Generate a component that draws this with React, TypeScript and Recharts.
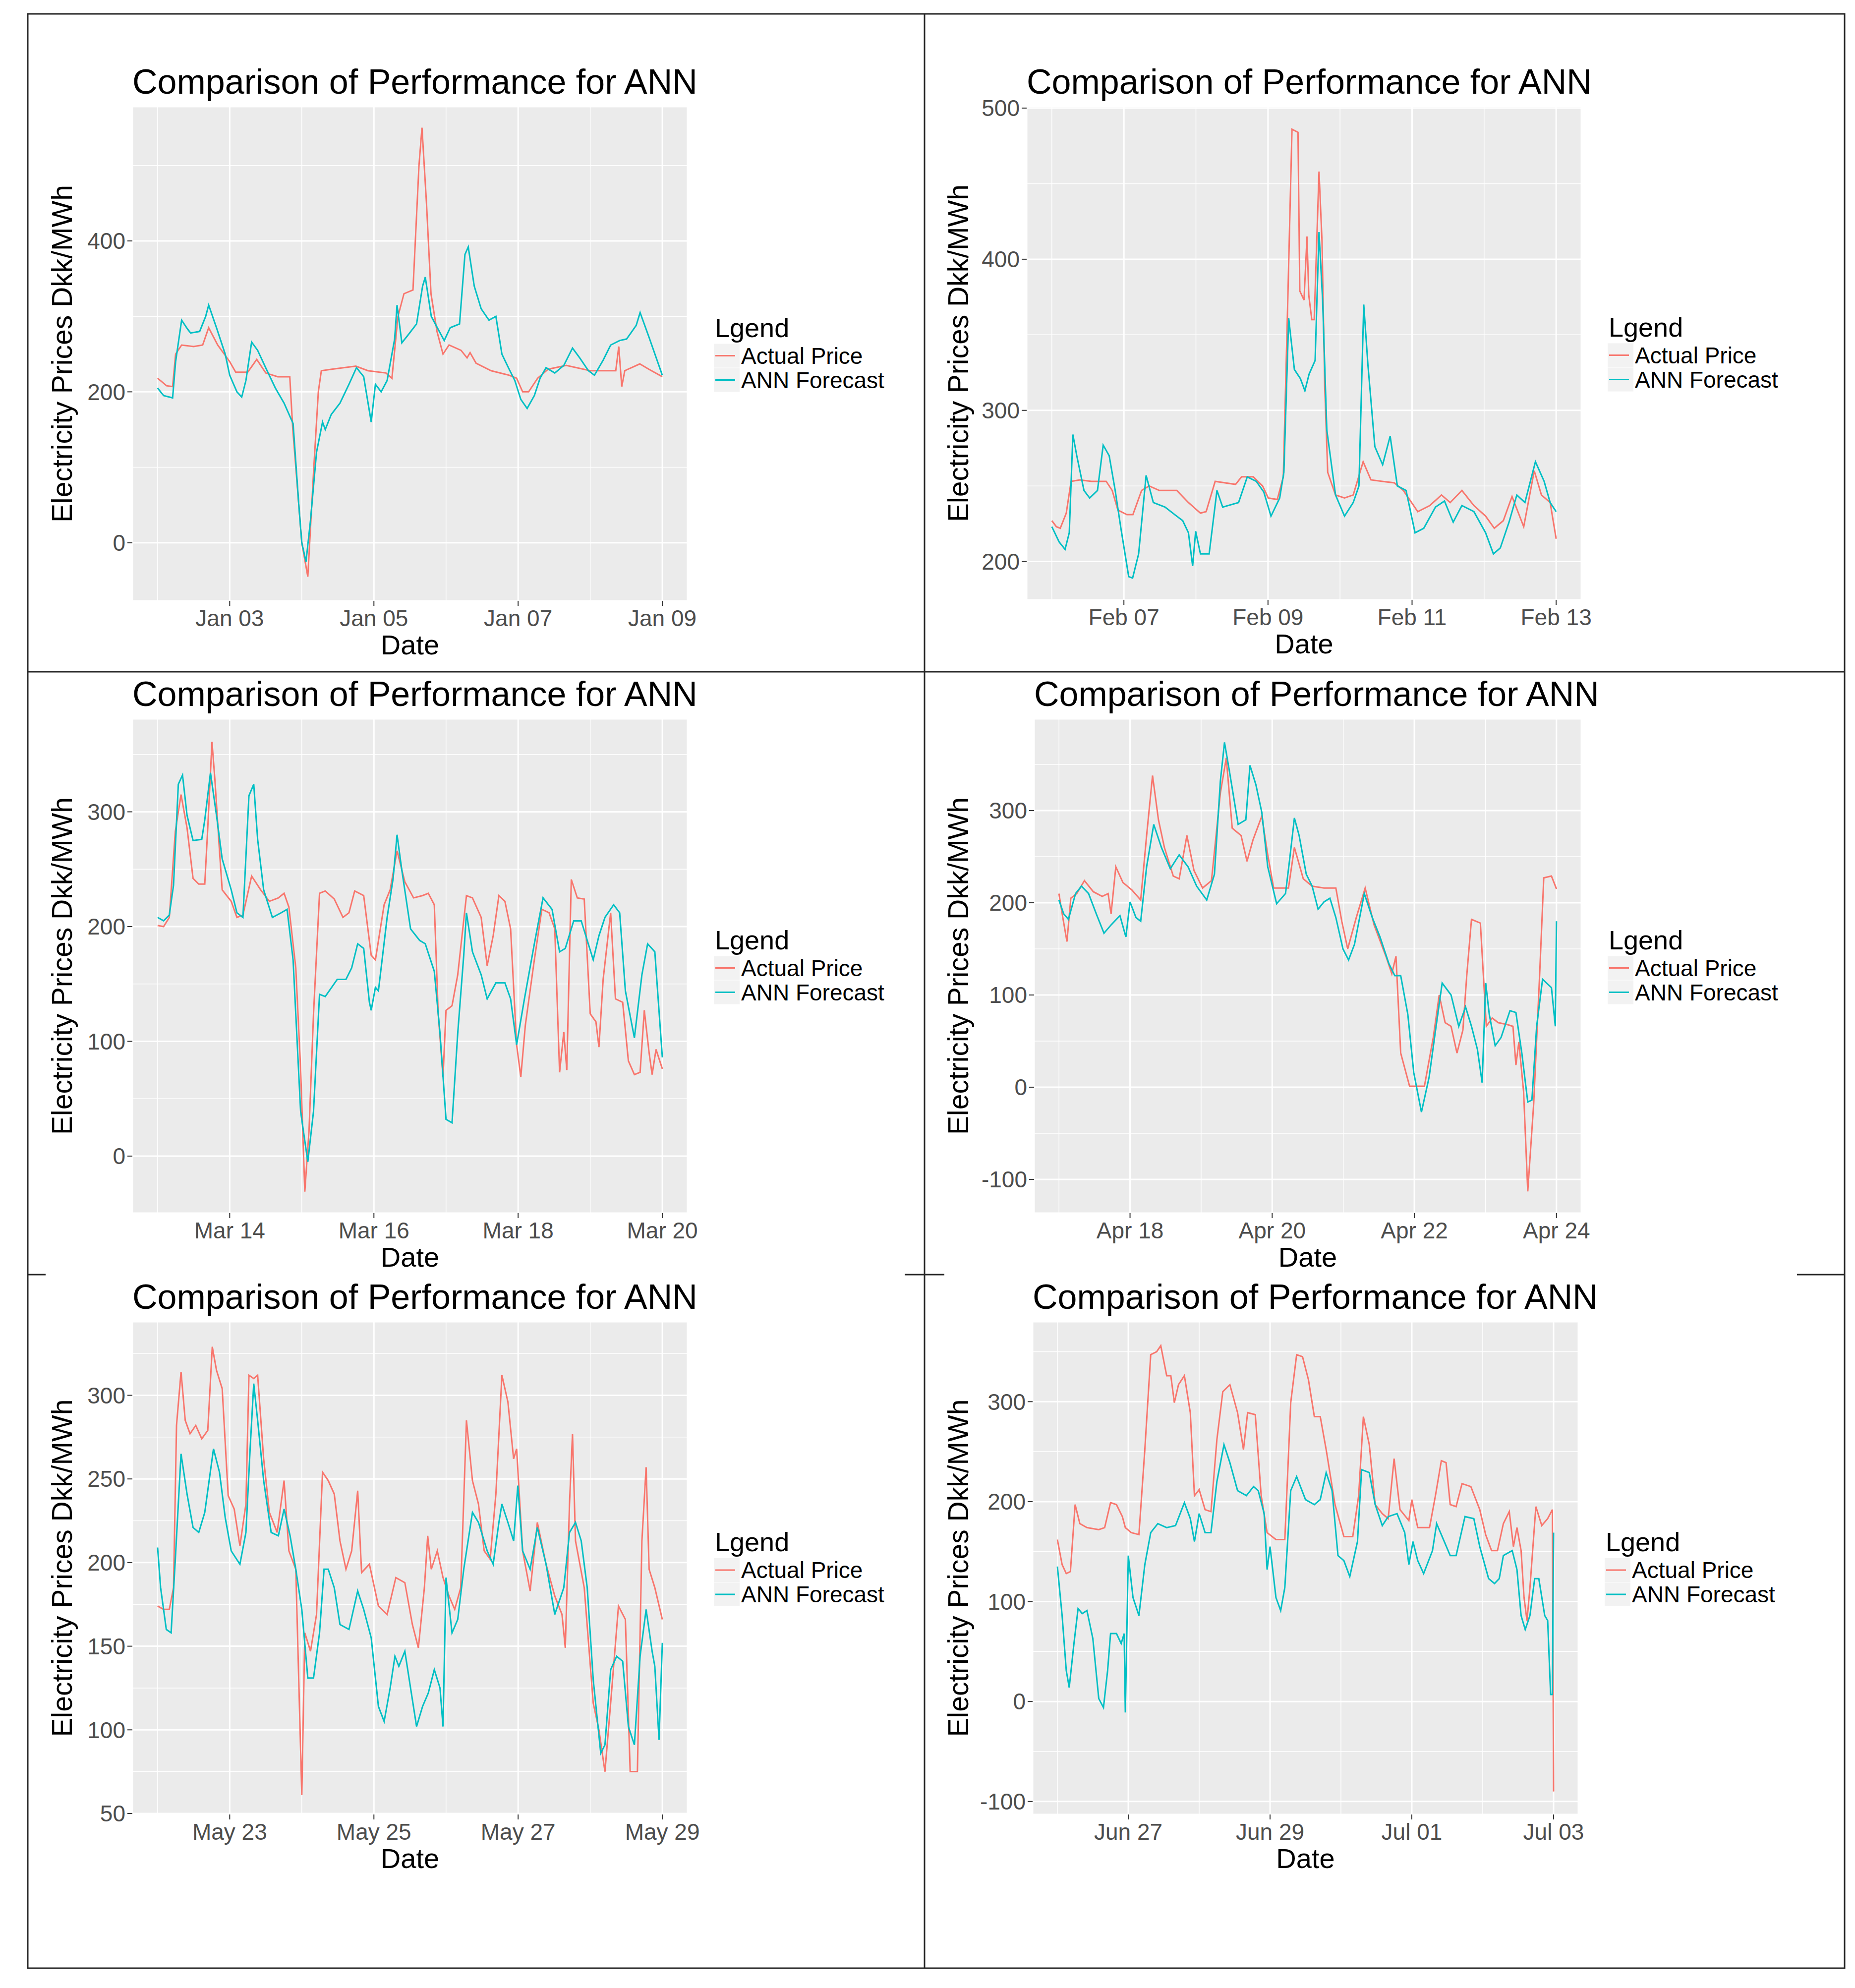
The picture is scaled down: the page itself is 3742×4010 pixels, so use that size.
import React from "react";
import { LineChart, Line, XAxis, YAxis, CartesianGrid, ReferenceLine } from "recharts";

const FONT = '"Liberation Sans", Arial, Helvetica, sans-serif';
const RED = "#F8766D";
const TEAL = "#00BFC4";

type Pt = [number, number];

// hours since midnight of the first day shown, value in Dkk/MWh
const hourTicks = [24, 72, 120, 168];
const hourMinor = [0, 48, 96, 144];

const janTicks = ["Jan 03", "Jan 05", "Jan 07", "Jan 09"];
const febTicks = ["Feb 07", "Feb 09", "Feb 11", "Feb 13"];
const marTicks = ["Mar 14", "Mar 16", "Mar 18", "Mar 20"];
const aprTicks = ["Apr 18", "Apr 20", "Apr 22", "Apr 24"];
const mayTicks = ["May 23", "May 25", "May 27", "May 29"];
const junTicks = ["Jun 27", "Jun 29", "Jul 01", "Jul 03"];

const janActual: Pt[] = [[0,218],[3,208],[5,207],[6,250],[8,262],[12,260],[15,262],[17,285],[20,262],[24,240],[26,226],[30,226],[33,243],[36,225],[40,220],[44,220],[45,150],[48,0],[50,-45],[52,100],[53.5,200],[54.5,228],[58,230],[66,234],[70,228],[76,225],[78,218],[80,300],[82,330],[85,335],[87,500],[88,550],[89.5,450],[91,330],[93,280],[95,250],[97,262],[101,255],[103,245],[104,252],[106,238],[111,228],[117,222],[119.5,218],[121.5,200],[123.5,200],[126.5,218],[130,230],[136,235],[144,228],[152.5,228],[153.5,260],[154.5,207],[155.5,228],[160.5,237],[163.5,230],[168,220]];
const janForecast: Pt[] = [[0,205],[2,195],[5,192],[6,240],[8,295],[10,283],[11,278],[14,280],[16,300],[17,315],[19.6,285],[22.5,250],[24,222],[26.4,200],[28,193],[29.4,215],[31.3,266],[33.3,255],[36.2,230],[39.2,205],[42.1,185],[45.1,158],[47,50],[48,0],[49.4,-25],[50.9,30],[52.9,120],[54.9,160],[55.8,150],[57.8,170],[60.7,185],[63.7,210],[66.2,232],[68.6,220],[71.1,160],[72.5,210],[74.4,200],[76.4,215],[78.9,270],[79.7,315],[81.3,265],[83.3,275],[86.2,290],[88.2,340],[89.1,352],[91.1,300],[93.1,285],[95.4,268],[97.4,285],[100.5,290],[102.3,382],[103.4,392],[105.4,340],[107.7,310],[110.3,295],[112.6,300],[114.6,250],[117,230],[118.9,215],[120.9,190],[123,178],[125.4,195],[127.3,218],[129.3,232],[132.2,225],[135.2,235],[138.1,258],[140.5,245],[143.4,228],[145.4,222],[148.3,242],[150.8,262],[153.8,268],[156.1,270],[159.3,288],[160.6,305],[163.6,272],[168,222]];

const febActual: Pt[] = [[0,227],[1.5,223],[2.8,222],[4.8,232],[6.4,253],[9.3,254],[13.2,253],[18.1,253],[20.1,247],[22,234],[25,231],[27,231],[29.9,247],[32.4,250],[35.8,247],[41.6,247],[45.5,239],[49.5,232],[51.4,233],[54.4,253],[61.2,251],[63.2,256],[67.1,256],[70.2,250],[72.1,242],[75.1,241],[77.1,256],[78.6,373],[80,486],[82,484],[82.6,379],[84,373],[85,415],[85.6,376],[86.6,360],[87.4,360],[89,458],[90,412],[90.9,316],[91.9,259],[94.5,244],[97.5,242],[100.4,244],[103.7,266],[106.3,254],[114.1,252],[117.1,247],[121.9,233],[125.9,237],[129.8,244],[132.7,239],[136.6,247],[140.6,237],[144.5,230],[147.4,222],[150.4,227],[153.3,243],[157.2,223],[160.7,260],[163.1,244],[166,239],[168,215]];
const febForecast: Pt[] = [[0,223],[2.4,213],[4.4,208],[5.8,219],[7,284],[8.3,270],[10.7,247],[12.6,242],[15.2,247],[17.1,277],[19.1,270],[21.1,247],[23,222],[25.6,190],[26.9,189],[28.9,205],[31.4,257],[33.8,239],[37.7,236],[41.6,230],[43.6,227],[45.5,219],[46.9,197],[47.9,220],[49.5,205],[52.4,205],[55,247],[56.9,236],[62.2,239],[65.1,256],[68.1,253],[70.6,246],[73,230],[75.9,242],[77.3,259],[78.9,361],[80.8,327],[82.8,321],[84.3,313],[85.7,324],[87.7,333],[89,418],[90.2,373],[91.6,287],[94.5,244],[97.5,230],[100.4,239],[102.3,250],[103.9,370],[105.3,330],[107.6,276],[110.2,264],[112.7,283],[115.1,250],[118,247],[121,219],[123.9,222],[127.8,236],[130.8,240],[133.7,226],[136.6,237],[140.6,233],[144.5,219],[147.1,205],[149.4,209],[152.3,226],[154.9,244],[157.6,239],[161.1,266],[164,253],[166,239],[168,233]];

const marActual: Pt[] = [[0,201],[2,200],[3.9,208],[5.9,283],[7.8,315],[9.8,286],[11.8,242],[13.7,237],[15.7,237],[16.7,286],[18.1,361],[19.1,327],[20.6,266],[21.5,232],[24.5,222],[26.4,208],[28.4,210],[31.3,244],[34.3,232],[37.2,222],[40.2,225],[42.1,229],[43.7,217],[46,164],[47.6,76],[49,-31],[50.4,22],[51.9,124],[53.9,229],[55.8,231],[58.8,224],[61.7,208],[63.7,212],[65.6,231],[68.6,227],[71.1,175],[72.5,171],[75.4,219],[77.4,232],[79.7,266],[82.3,239],[85.2,225],[88.2,227],[90.1,229],[92.1,219],[93.4,124],[95,69],[96,127],[98,131],[99.9,158],[102.8,227],[104.8,225],[107.7,208],[109.7,166],[111.7,192],[113.6,227],[115.6,222],[117.5,198],[119.5,97],[120.9,69],[122.4,114],[125.4,171],[127.9,215],[130.3,212],[132.2,198],[133.8,73],[135.2,108],[136.2,75],[137.7,241],[139.7,225],[142,224],[144,124],[145.9,117],[146.9,95],[148.3,154],[150.8,212],[152.4,137],[154.8,134],[156.7,83],[158.7,71],[160.6,73],[162,127],[163.6,90],[164.6,71],[165.9,93],[168,76]];
const marForecast: Pt[] = [[0,208],[2,205],[3.9,210],[5.3,236],[6.9,324],[8.3,332],[9.8,297],[11.8,275],[14.7,276],[15.7,293],[17.6,334],[19.6,297],[21.5,259],[24.5,232],[26.4,212],[28.4,208],[30.4,314],[32,324],[33.3,276],[35.3,232],[38.2,208],[41.1,212],[43.1,215],[45.1,171],[47.6,39],[50,-5],[51.9,39],[53.9,141],[55.8,139],[59.8,154],[62.7,154],[64.6,164],[66.6,185],[68.6,181],[70.5,134],[71.1,127],[72.5,147],[73.5,144],[76.4,208],[78.4,242],[79.7,280],[81.3,249],[84.2,198],[87.2,188],[89.1,185],[92.1,161],[94,107],[96,32],[98,29],[99.9,107],[101.9,175],[102.8,212],[104.8,178],[107.7,158],[109.7,137],[112.6,151],[115.6,151],[117.5,137],[119.5,97],[122.1,137],[125.4,185],[128.3,225],[131.3,215],[133.8,178],[135.7,181],[138.5,205],[141,205],[143,188],[145,171],[146.9,192],[148.9,208],[151.8,219],[153.8,212],[155.7,144],[158.7,103],[161.2,158],[163.1,185],[165.5,178],[168,86]];

const aprActual: Pt[] = [[0,210],[1.3,184],[2.7,158],[4,205],[6,210],[8.6,224],[11.6,212],[14.6,207],[16.6,210],[17.6,188],[19.2,239],[21.6,222],[24.6,214],[27.6,203],[29.6,273],[31.6,338],[33.6,290],[35.6,260],[38.6,229],[40.6,226],[43.2,273],[45.6,235],[48.5,216],[51.5,224],[54.5,319],[56.5,357],[58.5,281],[61.5,273],[63.5,245],[65.5,268],[68.5,294],[70.5,252],[72.5,216],[77.5,216],[79.5,260],[82.5,226],[85.5,218],[89.5,216],[93.5,216],[95.5,180],[97.5,150],[100.4,184],[103.4,216],[106.4,176],[110.4,142],[112.4,123],[113.8,142],[115.4,37],[118.4,1],[123.4,1],[126.4,54],[128.4,100],[130.4,70],[132.4,66],[134.4,37],[136.4,62],[137.7,121],[139.3,182],[142.3,178],[144.3,66],[146.3,75],[148.3,70],[151.3,68],[153.3,66],[154.3,24],[155.3,49],[156.9,-5],[158.3,-113],[160.3,-18],[162.3,121],[163.7,227],[166.3,229],[168,215]];
const aprForecast: Pt[] = [[0,203],[1.6,188],[3.2,182],[5.6,210],[7.6,218],[10,210],[12.6,188],[15.2,167],[17.6,176],[20.6,186],[22.6,163],[24,201],[26,184],[27.6,180],[29.6,239],[32,285],[34.6,260],[37.6,237],[40.6,252],[43.6,239],[46.5,218],[49.9,203],[52.5,231],[54.5,332],[55.9,374],[57.5,344],[60.5,285],[63.1,290],[64.5,349],[66.5,328],[68.5,298],[70.5,239],[73.5,199],[76.5,210],[77.9,247],[79.5,292],[81.1,273],[83.5,231],[85.5,218],[87.5,193],[89.5,201],[91.5,205],[93.5,184],[95.9,150],[97.8,138],[99.8,155],[103.1,210],[105.8,184],[108.4,163],[111.4,134],[113.4,121],[115.4,121],[117.8,79],[119.8,16],[122.4,-27],[125,11],[127,58],[129.4,113],[132.4,100],[135,66],[137.3,87],[139.3,66],[141.3,41],[142.9,5],[144.1,113],[145.3,79],[147.3,45],[149.3,54],[152.3,83],[154.3,81],[156.3,37],[158.3,-16],[159.7,-14],[161.3,66],[163.3,117],[166.3,108],[167.6,66],[168,180]];

const mayActual: Pt[] = [[0,174],[2,172],[3.9,172],[5.3,185],[6.3,282],[7.8,314],[9.2,285],[10.8,277],[12.7,282],[14.7,274],[16.7,279],[18.2,329],[19.6,315],[21.5,304],[23.5,240],[25.5,232],[27.4,210],[29.4,235],[30.4,312],[32,310],[33.3,312],[35.3,262],[37.2,230],[39.8,218],[42.1,249],[43.7,207],[46,196],[48,61],[49,158],[50.9,147],[52.9,169],[54.9,254],[56.8,249],[58.8,241],[60.7,213],[62.7,196],[64.6,207],[66.6,243],[67.9,194],[70.5,199],[73.5,174],[76.4,169],[79.3,191],[82.3,188],[84.8,163],[86.8,149],[88.8,185],[89.9,216],[91.1,196],[93.1,207],[95,191],[97,180],[98.9,172],[100.9,185],[102.8,285],[104.8,249],[106.8,235],[108.7,207],[110.7,202],[112.6,241],[114.6,312],[116.6,296],[118.5,262],[119.5,268],[121.5,207],[124,183],[126.4,224],[129.3,199],[132.2,180],[134.6,169],[135.7,149],[137.1,235],[138.1,277],[139.1,213],[142,185],[145,116],[146.9,100],[148.9,75],[150.8,116],[153.4,174],[155.7,166],[157.3,75],[159.7,75],[161.2,213],[162.6,257],[163.6,196],[165.5,185],[168,166]];
const mayForecast: Pt[] = [[0,209],[1,185],[2.9,160],[4.5,158],[5.9,202],[7.8,265],[9.8,241],[11.8,221],[13.7,218],[15.7,230],[18.6,268],[20.6,254],[22.5,227],[24.5,207],[27.4,199],[29.4,218],[30.8,268],[32,307],[33.3,285],[35.3,249],[37.8,218],[40.2,216],[42.1,232],[44.1,216],[46,196],[48,172],[50,131],[51.9,131],[53.9,158],[55.4,196],[56.8,196],[58.8,185],[60.7,163],[63.7,160],[66.6,183],[68.6,172],[71.1,155],[73.5,114],[75.4,105],[77.4,125],[79,144],[80.3,138],[82.3,147],[84.2,125],[86.2,102],[88.2,114],[90.1,122],[92.1,136],[94,125],[95,102],[96,191],[98,158],[99.9,166],[101.9,196],[104.8,230],[106.8,224],[109.7,207],[111.7,199],[113.6,224],[114.6,235],[116.6,224],[118.5,213],[119.9,246],[121.5,207],[124,196],[126.4,221],[129.3,199],[132.2,169],[135.2,185],[137.1,218],[139.1,224],[141,213],[143,185],[145,130],[147.5,86],[148.9,91],[150.8,136],[152.8,144],[154.8,141],[156.7,102],[158.7,91],[160.6,144],[162.6,172],[164.6,147],[165.5,138],[166.9,94],[168,152]];

const junActual: Pt[] = [[0,162],[1.6,137],[3,128],[4.4,130],[6,197],[7.6,178],[10,174],[14,172],[16,174],[18,199],[20,197],[22,185],[23,174],[25,169],[27.6,167],[29.6,252],[31.6,347],[33.6,350],[35,356],[37,326],[38.4,326],[39.6,299],[41,317],[43,326],[45,289],[46.4,206],[48,212],[50,192],[52,190],[54,262],[56,310],[58.4,317],[61,289],[63,252],[64.4,289],[67,287],[69,206],[71,169],[74,162],[77,162],[79,299],[81,347],[83,345],[85,322],[87,285],[89,285],[91,252],[94,197],[97,165],[100,165],[102,206],[103.6,285],[105.6,257],[107.6,197],[110,188],[112,183],[114,243],[116,192],[119,181],[120,202],[122,174],[126,174],[128,206],[130,241],[131.6,239],[133,197],[135,195],[137,218],[140,215],[143,192],[145,167],[147,151],[149,151],[151,178],[153,190],[154.4,155],[155.6,174],[157,151],[158,104],[159,81],[160,114],[162,195],[164,176],[166,183],[167.6,192],[168,-90]];
const junForecast: Pt[] = [[0,135],[1.6,86],[3,31],[4,14],[5.6,58],[7,93],[8.4,88],[10,91],[12,63],[14,3],[15.6,-6],[17,31],[18,68],[20,68],[21.6,58],[22.6,68],[23,-11],[24,146],[25.6,104],[27.6,86],[29.6,137],[31.6,169],[34,178],[37,174],[40,176],[43,199],[45,183],[46.4,160],[48,188],[50,169],[52,169],[54,220],[56.4,257],[58.4,239],[61,211],[64,206],[66.4,215],[68,211],[70,188],[71,132],[72,155],[74,104],[75.6,91],[77,114],[79,211],[81,225],[84,202],[87,197],[89,202],[91,229],[93,211],[95,146],[97,141],[99,125],[101.6,160],[103,232],[105.6,229],[107.6,197],[110,176],[112,185],[115,188],[117.6,169],[119,137],[120.4,160],[122,141],[124,128],[127,151],[128.4,178],[131,160],[133,146],[135,146],[138,185],[141,183],[143,155],[146,123],[148,118],[149.6,123],[151,146],[154,151],[155.6,132],[157,86],[158.4,72],[160,86],[161.6,123],[163,123],[165,86],[166,81],[167,7],[167.6,7],[168,169]];

type PanelCfg = {
  L: number; T: number; R: number; B: number;
  yDomain: [number, number]; yTicks: number[]; yMinor: number[];
  xLabels: string[]; actual: Pt[]; forecast: Pt[]; yTitleX: number;
};

const panels: PanelCfg[] = [
  { L: 267, T: 215, R: 1387, B: 1212, yDomain: [-77, 578], yTicks: [0, 200, 400], yMinor: [100, 300, 500], xLabels: janTicks, actual: janActual, forecast: janForecast, yTitleX: 145 },
  { L: 2071, T: 215, R: 3190, B: 1210, yDomain: [174.6, 501], yTicks: [200, 300, 400, 500], yMinor: [250, 350, 450], xLabels: febTicks, actual: febActual, forecast: febForecast, yTitleX: 1953 },
  { L: 267, T: 1450, R: 1387, B: 2447, yDomain: [-49.7, 381], yTicks: [0, 100, 200, 300], yMinor: [50, 150, 250, 350], xLabels: marTicks, actual: marActual, forecast: marForecast, yTitleX: 145 },
  { L: 2086, T: 1450, R: 3190, B: 2447, yDomain: [-136.6, 399.5], yTicks: [-100, 0, 100, 200, 300], yMinor: [-50, 50, 150, 250, 350], xLabels: aprTicks, actual: aprActual, forecast: aprForecast, yTitleX: 1953 },
  { L: 267, T: 2666, R: 1387, B: 3660, yDomain: [49.4, 344], yTicks: [50, 100, 150, 200, 250, 300], yMinor: [75, 125, 175, 225, 275, 325], xLabels: mayTicks, actual: mayActual, forecast: mayForecast, yTitleX: 145 },
  { L: 2083, T: 2666, R: 3184, B: 3660, yDomain: [-113, 380], yTicks: [-100, 0, 100, 200, 300], yMinor: [-50, 50, 150, 250, 350], xLabels: junTicks, actual: junActual, forecast: junForecast, yTitleX: 1953 },
];

const TICK_FS = 46;
const TICK_COLOR = "#4D4D4D";

function Panel({ p }: { p: PanelCfg }) {
  const Yw = 220, mT = 60, mR = 110, Xh = 90;
  const w = p.R - p.L + Yw + mR;
  const h = p.B - p.T + mT + Xh;
  const actual = p.actual.map(([t, v]) => ({ t, v }));
  const forecast = p.forecast.map(([t, v]) => ({ t, v }));
  const xTick = (props: any) => {
    const idx = hourTicks.indexOf(props.payload.value);
    return (
      <text x={props.x} y={props.y} dy="0.71em" textAnchor="middle" fontSize={TICK_FS} fontFamily={FONT} fill={TICK_COLOR}>
        {p.xLabels[idx]}
      </text>
    );
  };
  const yTick = (props: any) => (
    <text x={props.x} y={props.y} dy="0.355em" textAnchor="end" fontSize={TICK_FS} fontFamily={FONT} fill={TICK_COLOR}>
      {String(props.payload.value)}
    </text>
  );
  return (
    <div style={{ position: "absolute", left: p.L - Yw, top: p.T - mT, width: w, height: h }}>
      <LineChart width={w} height={h} margin={{ top: mT, right: mR, bottom: 0, left: 0 }}>
        <CartesianGrid fill="#EBEBEB" fillOpacity={1} stroke="#FFFFFF" strokeWidth={3} />
        <XAxis type="number" dataKey="t" domain={[-8.4, 176.4]} ticks={hourTicks} allowDataOverflow interval={0}
          height={Xh} axisLine={false} tickSize={10} tickMargin={8} tickLine={{ stroke: "#333333", strokeWidth: 2 }} tick={xTick} />
        <YAxis type="number" domain={p.yDomain} ticks={p.yTicks} allowDataOverflow interval={0}
          width={Yw} axisLine={false} tickSize={10} tickMargin={4} tickLine={{ stroke: "#333333", strokeWidth: 2 }} tick={yTick} />
        {p.yMinor.map((v) => (
          <ReferenceLine key={"ym" + v} y={v} stroke="#FFFFFF" strokeWidth={1.5} />
        ))}
        {hourMinor.map((v) => (
          <ReferenceLine key={"xm" + v} x={v} stroke="#FFFFFF" strokeWidth={1.5} />
        ))}
        <Line data={actual} dataKey="v" type="linear" stroke={RED} strokeWidth={3} dot={false} activeDot={false} isAnimationActive={false} />
        <Line data={forecast} dataKey="v" type="linear" stroke={TEAL} strokeWidth={3} dot={false} activeDot={false} isAnimationActive={false} />
      </LineChart>
    </div>
  );
}

function PanelText({ p }: { p: PanelCfg }) {
  const cx = (p.L + p.R) / 2;
  const cy = (p.T + p.B) / 2;
  const lx = p.R + 55;
  const row1 = cy + 4;
  const row2 = cy + 53;
  return (
    <g fontFamily={FONT}>
      <text x={p.L} y={p.T - 26} fontSize={70} fill="#000">Comparison of Performance for ANN</text>
      <text x={cx} y={p.B + 108} fontSize={56} fill="#000" textAnchor="middle">Date</text>
      <text transform={`translate(${p.yTitleX},${cy}) rotate(-90)`} fontSize={57} fill="#000" textAnchor="middle">Electricity Prices Dkk/MWh</text>
      <text x={lx} y={cy - 34} fontSize={54} fill="#000">Lgend</text>
      <rect x={lx - 2} y={row1 - 24} width={52} height={48} fill="#F2F2F2" />
      <rect x={lx - 2} y={row2 - 24} width={52} height={48} fill="#F2F2F2" />
      <line x1={lx + 1} x2={lx + 41} y1={row1} y2={row1} stroke={RED} strokeWidth={3} />
      <line x1={lx + 1} x2={lx + 41} y1={row2} y2={row2} stroke={TEAL} strokeWidth={3} />
      <text x={lx + 53} y={row1 + 16} fontSize={46} fill="#000">Actual Price</text>
      <text x={lx + 53} y={row2 + 16} fontSize={46} fill="#000">ANN Forecast</text>
    </g>
  );
}

export default function App() {
  const bc = "#262626";
  const bw = 3;
  return (
    <div style={{ position: "absolute", left: 0, top: 0, width: 3742, height: 4010, background: "#FFFFFF", overflow: "hidden" }}>
      {panels.map((p, i) => (
        <Panel key={i} p={p} />
      ))}
      <svg width={3742} height={4010} style={{ position: "absolute", left: 0, top: 0, pointerEvents: "none" }}>
        <rect x={56} y={28} width={3721 - 56} height={3970 - 28} fill="none" stroke={bc} strokeWidth={bw} />
        <line x1={1865} x2={1865} y1={28} y2={3970} stroke={bc} strokeWidth={bw} />
        <line x1={56} x2={3721} y1={1355} y2={1355} stroke={bc} strokeWidth={bw} />
        <line x1={56} x2={92} y1={2571} y2={2571} stroke={bc} strokeWidth={bw} />
        <line x1={1825} x2={1905} y1={2571} y2={2571} stroke={bc} strokeWidth={bw} />
        <line x1={3625} x2={3721} y1={2571} y2={2571} stroke={bc} strokeWidth={bw} />
        {panels.map((p, i) => (
          <PanelText key={i} p={p} />
        ))}
      </svg>
    </div>
  );
}
